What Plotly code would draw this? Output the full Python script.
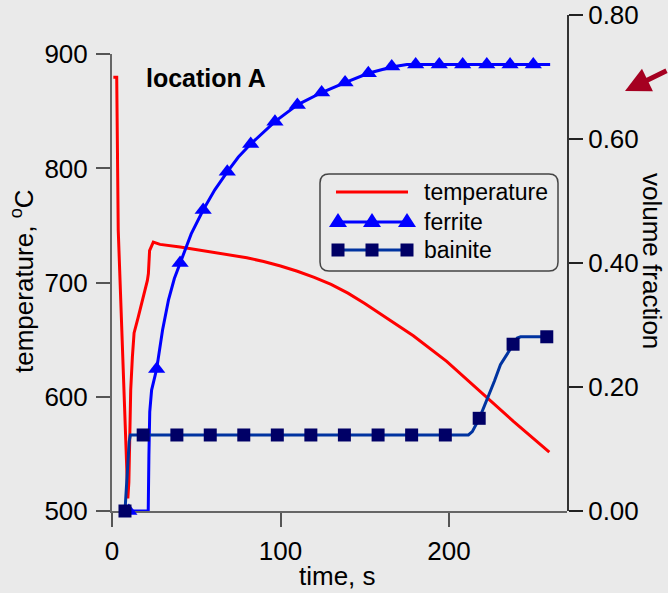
import plotly.graph_objects as go

# ---------------- data ----------------
temp_t = [0.8, 2.8, 3.7, 6.5, 9.4, 10.0, 10.3, 11.1, 12.1, 13.1, 15.6, 18.5, 21.0, 21.6,
          22.3, 24.5, 28.5, 40.4, 58.0, 70.0, 80.0, 90.0, 100.0, 110.0, 120.0, 130.0,
          140.0, 150.0, 158.8, 178.8, 198.6, 218.4, 238.2, 259.5]
temp_T = [880, 880, 746, 631, 511, 525, 542, 606, 635, 656, 670, 686, 702, 708,
          728, 735.5, 733.5, 731.3, 727.2, 724.6, 721.8, 718.5, 714.6, 710, 704.6, 698.4,
          690.8, 681.8, 673, 653.5, 631, 605, 578.5, 551.5]

ferrite_t = [10.0, 21.5, 21.9, 22.4, 23.5, 25.0, 26.5, 30.0, 33.5, 37.0, 40.4, 47.0, 54.1,
             61.0, 68.4, 75.0, 82.3, 96.7, 110.0, 124.4, 138.3, 152.1, 166.0, 175.0,
             260.0]
ferrite_f = [0.0, 0.0, 0.09, 0.16, 0.195, 0.213, 0.229, 0.292, 0.340, 0.375, 0.40, 0.447,
             0.4855, 0.518, 0.547, 0.571, 0.592, 0.628, 0.655, 0.675, 0.691, 0.706, 0.716,
             0.72, 0.72]
ferrite_mark_t = [10.0, 26.5, 40.4, 54.1, 68.4, 82.3, 96.7, 110.0, 124.4, 138.3, 152.1,
                  166.0, 180.2, 194.2, 208.1, 222.4, 236.2, 250.0]
ferrite_mark_f = [0.0, 0.229, 0.40, 0.4855, 0.547, 0.592, 0.628, 0.655, 0.675, 0.691, 0.706,
                  0.717, 0.72, 0.72, 0.72, 0.72, 0.72, 0.72]

bainite_t = [7.7, 9.0, 10.2, 10.9, 211.5, 213.8, 215.4, 218.0, 227.0, 230.5, 238.2, 240.5,
             242.5, 258.0]
bainite_f = [0.0, 0.06, 0.112, 0.1226, 0.1226, 0.128, 0.136, 0.1495, 0.21, 0.236, 0.269,
             0.279, 0.281, 0.281]
bainite_mark_t = [7.7, 18.5, 38.5, 58.3, 78.2, 98.1, 118.0, 137.9, 157.9, 177.8, 197.8,
                  217.9, 238.0, 258.0]
bainite_mark_f = [0.0, 0.1226, 0.1226, 0.1226, 0.1226, 0.1226, 0.1226, 0.1226, 0.1226,
                  0.1226, 0.1226, 0.1495, 0.269, 0.281]

series_names = ["temperature", "ferrite", "bainite"]
x_ticks = [0, 100, 200]
temp_ticks = [500, 600, 700, 800, 900]
frac_ticks = [0.0, 0.2, 0.4, 0.6, 0.8]

# ---------------- styling / layout helpers ----------------
BG = "#EAEAEA"
FONT = "Liberation Sans, Arial, sans-serif"
RED = "#FF0000"
BLUE = "#0000FF"
NAVY_LINE = "#0033A0"
NAVY_MARK = "#000066"

W, H = 668, 593
PL, PT, PW, PH = 112, 15, 455, 496          # plot area in pixels


def px(x):
    return (x - PL) / PW


def py(y):
    return (PT + PH - y) / PH


fig = go.Figure()

fig.add_trace(go.Scatter(x=temp_t, y=temp_T, mode="lines", name=series_names[0],
                         line=dict(color=RED, width=3), yaxis="y", showlegend=False))
fig.add_trace(go.Scatter(x=ferrite_t, y=ferrite_f, mode="lines", name=series_names[1],
                         yaxis="y2", line=dict(color=BLUE, width=3),
                         showlegend=False))
fig.add_trace(go.Scatter(x=ferrite_mark_t, y=ferrite_mark_f, mode="markers",
                         name=series_names[1], yaxis="y2",
                         marker=dict(symbol="triangle-up", size=15, color=BLUE),
                         cliponaxis=False, showlegend=False))
fig.add_trace(go.Scatter(x=bainite_t, y=bainite_f, mode="lines", name=series_names[2],
                         yaxis="y2", line=dict(color=NAVY_LINE, width=3),
                         showlegend=False))
fig.add_trace(go.Scatter(x=bainite_mark_t, y=bainite_mark_f, mode="markers",
                         name=series_names[2], yaxis="y2",
                         marker=dict(symbol="square", size=13, color=NAVY_MARK),
                         cliponaxis=False, showlegend=False))

tickfont = dict(family=FONT, size=26, color="black")

# ---------------- hand-drawn legend (box, sample lines, symbols, labels) ----------------
shapes = []
annotations = []
bx0, bx1, by0, by1, rr = 320, 558, 174, 271, 9
path = (f"M{px(bx0 + rr)},{py(by0)} L{px(bx1 - rr)},{py(by0)} "
        f"Q{px(bx1)},{py(by0)} {px(bx1)},{py(by0 + rr)} L{px(bx1)},{py(by1 - rr)} "
        f"Q{px(bx1)},{py(by1)} {px(bx1 - rr)},{py(by1)} L{px(bx0 + rr)},{py(by1)} "
        f"Q{px(bx0)},{py(by1)} {px(bx0)},{py(by1 - rr)} L{px(bx0)},{py(by0 + rr)} "
        f"Q{px(bx0)},{py(by0)} {px(bx0 + rr)},{py(by0)} Z")
shapes.append(dict(type="path", path=path, xref="paper", yref="paper",
                   line=dict(color="#444", width=1.5), fillcolor=BG, layer="above"))

rows_y = [192, 222, 250]
sample_x0, sample_x1 = 336, 408
sym_x = [338, 372, 407]
line_colors = [RED, BLUE, NAVY_LINE]
for i, (name, ry, lc) in enumerate(zip(series_names, rows_y, line_colors)):
    shapes.append(dict(type="line", xref="paper", yref="paper",
                       x0=px(sample_x0), x1=px(sample_x1), y0=py(ry), y1=py(ry),
                       line=dict(color=lc, width=3), layer="above"))
    if i == 1:
        for sx in sym_x:
            shapes.append(dict(type="path", xref="paper", yref="paper",
                               xsizemode="pixel", ysizemode="pixel",
                               xanchor=px(sx), yanchor=py(ry),
                               path="M-9,-5 L9,-5 L0,9 Z", fillcolor=BLUE,
                               line=dict(width=0), layer="above"))
    elif i == 2:
        for sx in sym_x:
            shapes.append(dict(type="path", xref="paper", yref="paper",
                               xsizemode="pixel", ysizemode="pixel",
                               xanchor=px(sx), yanchor=py(ry),
                               path="M-6.5,-6.5 L6.5,-6.5 L6.5,6.5 L-6.5,6.5 Z",
                               fillcolor=NAVY_MARK, line=dict(width=0), layer="above"))
    annotations.append(dict(text=name, xref="paper", yref="paper", x=px(422), y=py(ry),
                            xanchor="left", yanchor="middle", showarrow=False,
                            font=dict(family=FONT, size=23, color="black")))

annotations += [
    dict(text="<b>location A</b>", xref="paper", yref="paper", x=px(144), y=py(78),
         xanchor="left", yanchor="middle", showarrow=False,
         font=dict(family=FONT, size=25, color="black")),
    dict(text="temperature, <sup>o</sup>C", xref="paper", yref="paper",
         x=px(22), y=py(281), xanchor="center", yanchor="middle", textangle=-90,
         showarrow=False, font=dict(family=FONT, size=26, color="black")),
    dict(text="volume fraction", xref="paper", yref="paper",
         x=px(652), y=py(261), xanchor="center", yanchor="middle", textangle=90,
         showarrow=False, font=dict(family=FONT, size=26, color="black")),
    dict(text="time, s", xref="paper", yref="paper",
         x=px(337), y=py(576), xanchor="center", yanchor="middle",
         showarrow=False, font=dict(family=FONT, size=26, color="black")),
    dict(text="", xref="paper", yref="paper", x=px(625), y=py(91),
         ax=55, ay=-21, showarrow=True, arrowhead=2, arrowsize=1,
         arrowwidth=5, arrowcolor="#A50021", standoff=0),
]

fig.update_layout(
    width=W, height=H,
    margin=dict(l=PL, r=W - PL - PW, t=PT, b=H - PT - PH, pad=0),
    paper_bgcolor=BG, plot_bgcolor="rgba(0,0,0,0)",
    font=dict(family=FONT, color="black"),
    showlegend=False,
    xaxis=dict(range=[0, 270], tickvals=x_ticks, ticks="outside", ticklen=14,
               tickwidth=1.5, tickcolor="#555", showline=True, linecolor="#666",
               linewidth=2, showgrid=False, zeroline=False, tickfont=tickfont,
               anchor="y", automargin=False, ticklabelstandoff=2),
    yaxis=dict(domain=[0, py(54.3)], range=[500, 900], tickvals=temp_ticks,
               ticks="outside", ticklen=14, tickwidth=1.5, tickcolor="#555",
               showline=True, linecolor="#666", linewidth=2, showgrid=False,
               zeroline=False, tickfont=tickfont, anchor="x", automargin=False,
               ticklabelstandoff=3),
    yaxis2=dict(domain=[0, 1], range=[0, 0.8], tickvals=frac_ticks, tickformat=".2f",
                side="right", anchor="x", ticks="outside", ticklen=14, tickwidth=1.5,
                tickcolor="#222", showline=True, linecolor="#333", linewidth=2,
                showgrid=False, zeroline=False, tickfont=tickfont, automargin=False),
    shapes=shapes,
    annotations=annotations,
)

fig.write_html("out.html",
               config={"displayModeBar": False},
               post_script="document.body.style.margin='0';"
                           "document.body.style.background='#EAEAEA';"
                           "document.body.style.overflow='hidden';")
